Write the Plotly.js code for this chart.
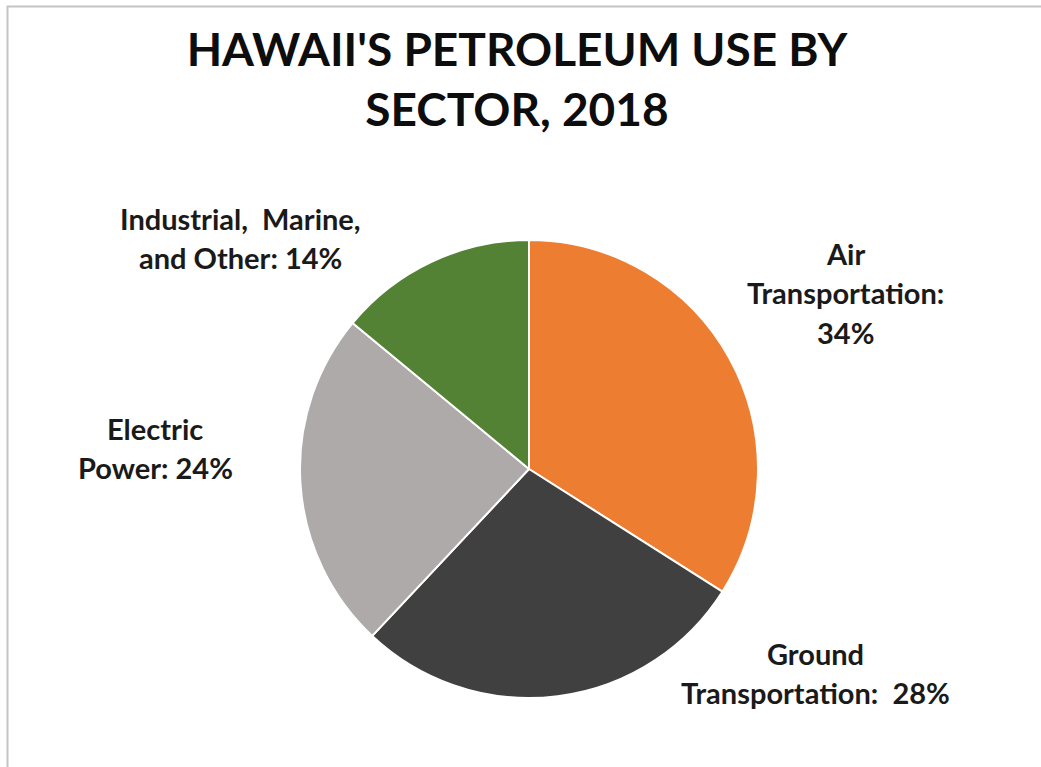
<!DOCTYPE html>
<html>
<head>
<meta charset="utf-8">
<script src="https://cdn.plot.ly/plotly-3.0.1.min.js"></script>
<style>
html,body{margin:0;padding:0;background:#fff;}
#chart{width:1041px;height:767px;}
</style>
</head>
<body>
<div id="chart"></div>
<script>
// Data
const sectors = ['Air Transportation', 'Ground Transportation', 'Electric Power', 'Industrial, Marine, and Other'];
const shares = [34, 28, 24, 14];
const colors = ['#ED7D31', '#404040', '#AEAAAA', '#548235'];
// label line breaks as shown in the chart
const labelLines = [
  ['Air', 'Transportation:', '{v}%'],
  ['Ground', 'Transportation:  {v}%'],
  ['Electric', 'Power: {v}%'],
  ['Industrial,  Marine,', 'and Other: {v}%']
];
// label anchor (pixel centre of first line) and line spacing
const labelPos = [[845, 253], [815, 653], [155, 428], [240, 218]];
const lineGap = 39.5;

const W = 1041, H = 767;
const px = x => x / W;
const py = y => 1 - y / H;

const FONT = 'Lato, "Open Sans", sans-serif';

const cx = 529, cy = 469, r = 229;

const annotations = [];
labelLines.forEach((lines, i) => {
  lines.forEach((ln, j) => {
    annotations.push({
      xref: 'paper', yref: 'paper',
      x: px(labelPos[i][0]), y: py(labelPos[i][1] + j * lineGap),
      xanchor: 'center', yanchor: 'middle',
      text: '<b>' + ln.replace('{v}', shares[i]) + '</b>',
      showarrow: false,
      font: {family: FONT, size: 29, color: '#1a1a1a'}
    });
  });
});

const trace = {
  type: 'pie',
  labels: sectors,
  values: shares,
  sort: false,
  direction: 'clockwise',
  rotation: 0,
  marker: {colors: colors, line: {color: '#ffffff', width: 2}},
  textinfo: 'none',
  hoverinfo: 'label+percent',
  showlegend: false,
  domain: {x: [px(cx - r), px(cx + r)], y: [py(cy + r), py(cy - r)]}
};

const layout = {
  width: W, height: H,
  margin: {l: 0, r: 0, t: 0, b: 0},
  paper_bgcolor: '#ffffff',
  showlegend: false,
  title: {
    text: "<b>HAWAII'S PETROLEUM USE BY<br>SECTOR, 2018</b>",
    x: px(517), xanchor: 'center',
    y: py(66), yanchor: 'middle',
    font: {family: FONT, size: 46, color: '#0d0d0d'}
  },
  annotations: annotations,
  shapes: [{
    type: 'rect', xref: 'paper', yref: 'paper',
    x0: px(7.5), x1: 1.1, y0: -0.1, y1: py(6.5),
    line: {color: '#c4c4c4', width: 2}, fillcolor: 'rgba(0,0,0,0)'
  }]
};

Plotly.newPlot('chart', [trace], layout, {displayModeBar: false, staticPlot: true});
</script>
</body>
</html>
